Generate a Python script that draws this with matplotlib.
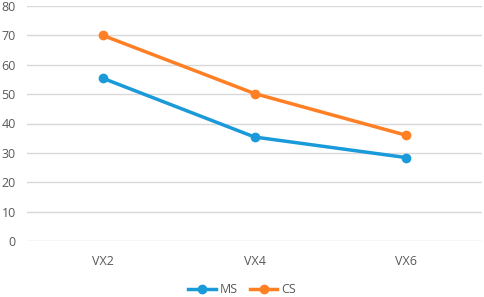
import matplotlib
matplotlib.use("Agg")
import matplotlib.pyplot as plt

categories = ["VX2", "VX4", "VX6"]
ms_values = [55.4, 35.4, 28.4]
cs_values = [70.0, 50.2, 36.0]
y_ticks = [0, 10, 20, 30, 40, 50, 60, 70, 80]

plt.rcParams['font.family'] = ['Open Sans', 'DejaVu Sans']

fig = plt.figure(figsize=(4.84, 2.97), dpi=100)
ax = fig.add_axes([27/484, 56/297, 455/484, 235/297])

x = list(range(len(categories)))
ax.plot(x, ms_values, color='#1b9ad9', lw=2.5, marker='o', ms=6, label='MS')
ax.plot(x, cs_values, color='#ff7f24', lw=2.5, marker='o', ms=6, label='CS')

ax.set_xlim(-0.5, len(categories) - 0.5)
ax.set_ylim(0, 80)
ax.set_yticks(y_ticks)
ax.set_xticks(x)
ax.set_xticklabels(categories)
ax.yaxis.grid(True, color='#d9d9d9', lw=1)
ax.set_axisbelow(True)
for s in ax.spines.values():
    s.set_visible(False)
ax.tick_params(length=0, labelsize=9, colors='#595959')
ax.tick_params(axis='x', pad=10)
ax.tick_params(axis='y', pad=8)

fig.legend(loc='lower center', bbox_to_anchor=(0.5, -0.035), ncol=2, frameon=False,
           fontsize=9, labelcolor='#595959', handlelength=2.2, columnspacing=1.0,
           handletextpad=0.3)

fig.savefig("out.png", dpi=100)
